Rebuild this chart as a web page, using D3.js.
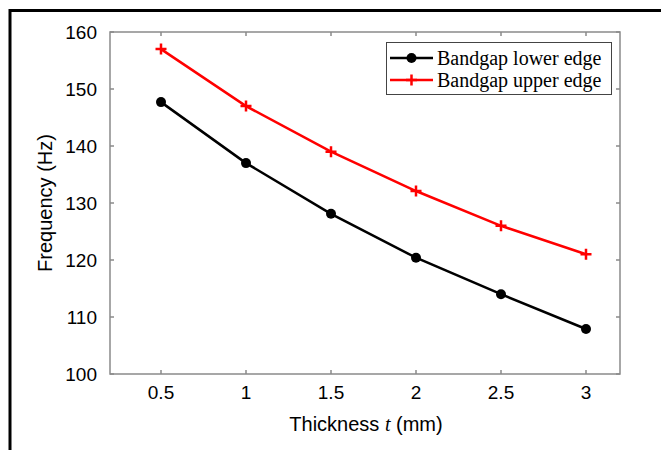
<!DOCTYPE html>
<html lang="en">
<head>
    <meta charset="utf-8">
    <title>Bandgap vs thickness</title>
    <script src="https://d3js.org/d3.v7.min.js"></script>
    <style>
        body { margin: 0; background: #fff; }
    </style>
</head>
<body>
    <svg width="661" height="450"></svg>

    <script>
        // Data
        var thickness = [0.5, 1, 1.5, 2, 2.5, 3];
        var lowerEdge = [147.7, 137.0, 128.1, 120.4, 114.0, 107.9];
        var upperEdge = [157.0, 147.0, 139.0, 132.1, 126.0, 121.0];
        var xTicks = [0.5, 1, 1.5, 2, 2.5, 3];
        var yTicks = [100, 110, 120, 130, 140, 150, 160];
        var seriesNames = ["Bandgap lower edge", "Bandgap upper edge"];

        var svg = d3.select("svg");

        // outer frame (only top and left edges visible in the crop)
        svg.append("rect")
            .attr("x", 10).attr("y", 10.5)
            .attr("width", 700).attr("height", 500)
            .attr("fill", "none")
            .attr("stroke", "#000")
            .attr("stroke-width", 3);

        var mLeft = 110, mRight = 620, mTop = 32, mBottom = 374;

        var x = d3.scaleLinear().domain([0.2, 3.2]).range([mLeft, mRight]);
        var y = d3.scaleLinear().domain([100, 160]).range([mBottom, mTop]);

        var axisColor = "#8a8a8a";
        var tickLen = 4;

        // box
        svg.append("rect")
            .attr("x", mLeft).attr("y", mTop)
            .attr("width", mRight - mLeft).attr("height", mBottom - mTop)
            .attr("fill", "none")
            .attr("stroke", axisColor)
            .attr("stroke-width", 1.5);

        // ticks (inward, mirrored)
        var g = svg.append("g").attr("stroke", axisColor).attr("stroke-width", 1.5);
        xTicks.forEach(function(t) {
            g.append("line").attr("x1", x(t)).attr("x2", x(t)).attr("y1", mBottom).attr("y2", mBottom - tickLen);
            g.append("line").attr("x1", x(t)).attr("x2", x(t)).attr("y1", mTop).attr("y2", mTop + tickLen);
        });
        yTicks.forEach(function(t) {
            g.append("line").attr("x1", mLeft).attr("x2", mLeft + tickLen).attr("y1", y(t)).attr("y2", y(t));
            g.append("line").attr("x1", mRight).attr("x2", mRight - tickLen).attr("y1", y(t)).attr("y2", y(t));
        });

        var sans = "'Liberation Sans', Arial, sans-serif";

        // tick labels
        svg.append("g").selectAll("text")
            .data(xTicks).enter().append("text")
            .attr("x", function(d) { return x(d); })
            .attr("y", 399)
            .attr("text-anchor", "middle")
            .style("font-family", sans).style("font-size", "19px")
            .text(function(d) { return d; });

        svg.append("g").selectAll("text")
            .data(yTicks).enter().append("text")
            .attr("x", 97)
            .attr("y", function(d) { return y(d); })
            .attr("dy", "0.36em")
            .attr("text-anchor", "end")
            .style("font-family", sans).style("font-size", "19px")
            .text(function(d) { return d; });

        // axis titles
        var xt = svg.append("text")
            .attr("x", 366).attr("y", 431)
            .attr("text-anchor", "middle")
            .style("font-family", sans).style("font-size", "20px");
        xt.append("tspan").text("Thickness ");
        xt.append("tspan").style("font-family", "'Liberation Serif', serif").style("font-style", "italic").text("t");
        xt.append("tspan").text(" (mm)");

        svg.append("text")
            .attr("transform", "translate(52,203) rotate(-90)")
            .attr("text-anchor", "middle")
            .style("font-family", sans).style("font-size", "20px")
            .text("Frequency (Hz)");

        var line = d3.line()
            .x(function(d) { return x(d[0]); })
            .y(function(d) { return y(d[1]); });

        var lower = d3.zip(thickness, lowerEdge);
        var upper = d3.zip(thickness, upperEdge);

        // upper edge (red, plus markers)
        svg.append("path")
            .attr("d", line(upper))
            .attr("fill", "none")
            .attr("stroke", "#ff0000")
            .attr("stroke-width", 2.5);

        function plus(sel, cx, cy, s) {
            sel.append("path")
                .attr("d", "M" + (cx - s) + "," + cy + "H" + (cx + s) + "M" + cx + "," + (cy - s) + "V" + (cy + s))
                .attr("stroke", "#ff0000")
                .attr("stroke-width", 2.5)
                .attr("fill", "none");
        }
        var pg = svg.append("g");
        upper.forEach(function(d) { plus(pg, x(d[0]), y(d[1]), 5.5); });

        // lower edge (black, circle markers)
        svg.append("path")
            .attr("d", line(lower))
            .attr("fill", "none")
            .attr("stroke", "#000")
            .attr("stroke-width", 2.5);

        svg.append("g").selectAll("circle")
            .data(lower).enter().append("circle")
            .attr("cx", function(d) { return x(d[0]); })
            .attr("cy", function(d) { return y(d[1]); })
            .attr("r", 5)
            .attr("fill", "#000");

        // legend
        var lg = svg.append("g");
        lg.append("rect")
            .attr("x", 386.5).attr("y", 42.5)
            .attr("width", 225).attr("height", 52)
            .attr("fill", "#fff")
            .attr("stroke", "#444")
            .attr("stroke-width", 1);

        var rows = [58, 80];
        lg.append("line").attr("x1", 390).attr("x2", 433).attr("y1", rows[0]).attr("y2", rows[0])
            .attr("stroke", "#000").attr("stroke-width", 2.5);
        lg.append("circle").attr("cx", 411.5).attr("cy", rows[0]).attr("r", 5).attr("fill", "#000");
        lg.append("line").attr("x1", 390).attr("x2", 433).attr("y1", rows[1]).attr("y2", rows[1])
            .attr("stroke", "#ff0000").attr("stroke-width", 2.5);
        plus(lg, 411.5, rows[1], 5.5);

        lg.selectAll("text.lab")
            .data(seriesNames).enter().append("text")
            .attr("class", "lab")
            .attr("x", 437)
            .attr("y", function(d, i) { return rows[i]; })
            .attr("dy", "0.33em")
            .style("font-family", "'Liberation Serif', 'Times New Roman', serif")
            .style("font-size", "20px")
            .text(function(d) { return d; });
    </script>
</body>
</html>
